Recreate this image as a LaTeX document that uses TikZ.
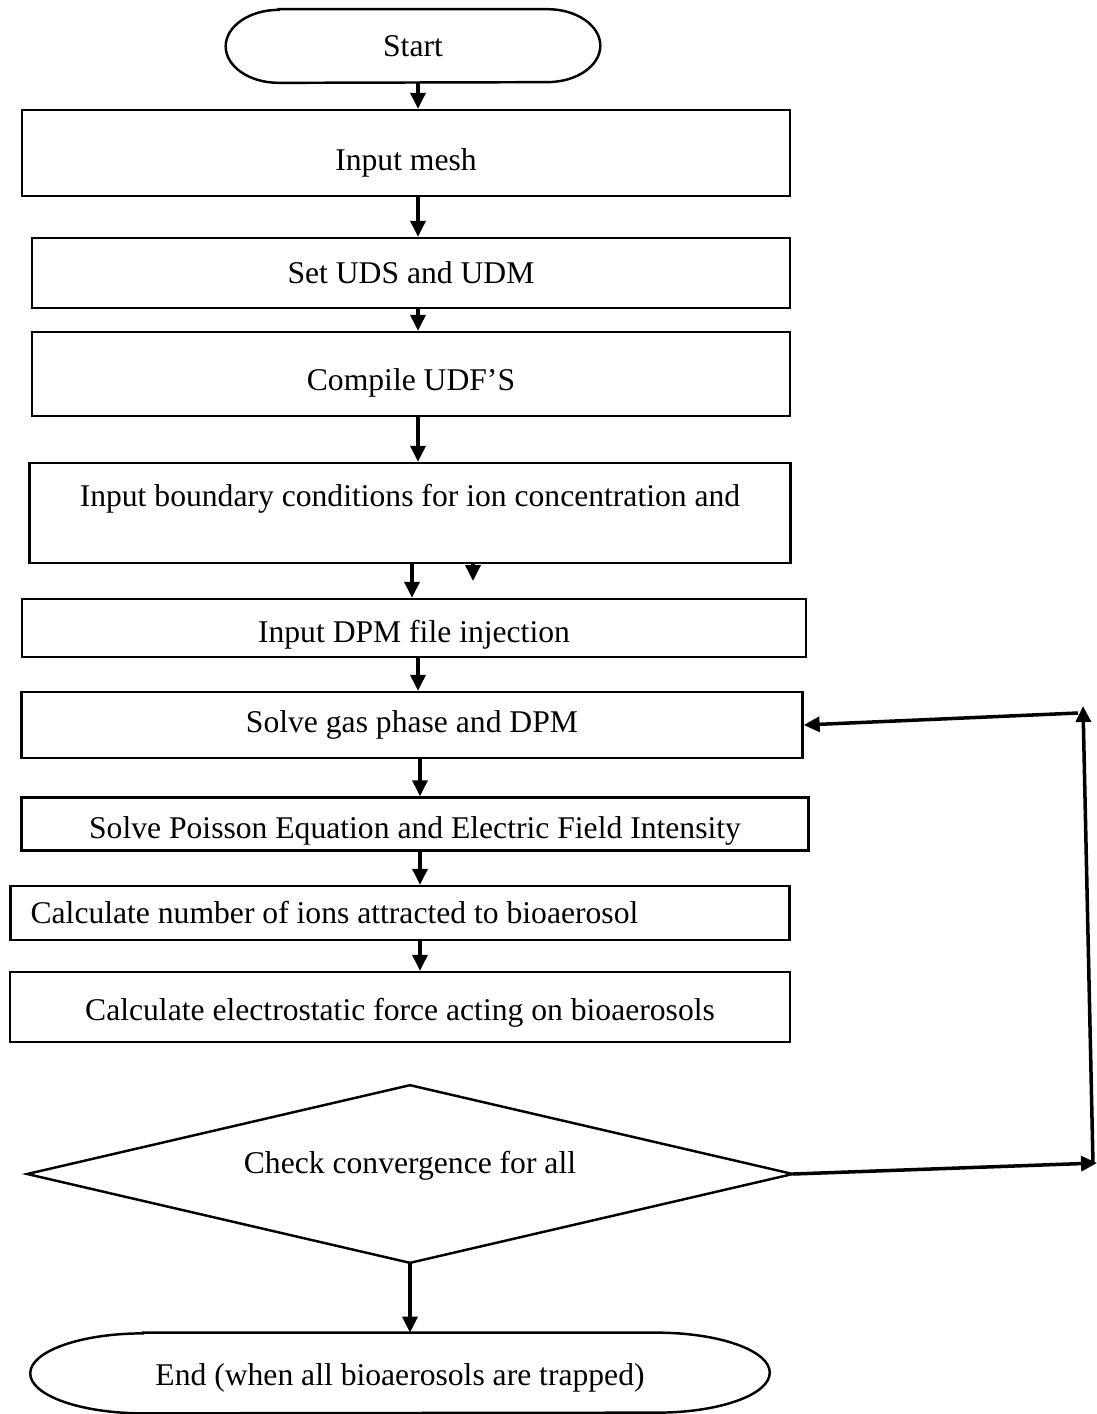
\documentclass[tikz,border=0pt]{standalone}
\usepackage{fontspec}
\setmainfont{Liberation Serif}
\usetikzlibrary{positioning,arrows.meta}

\begin{document}
\begin{tikzpicture}[x=0.02cm,y=-0.02cm,
    process/.style={draw,line width=1.4pt,inner sep=2pt,font=\fontsize{18}{20}\selectfont},
    plain/.style={inner sep=0pt,font=\fontsize{18}{20}\selectfont},
    tdrop/.style={text height=#1,text depth=0pt},
    flow/.style={line width=2pt,-{Triangle[length=0.32cm,width=0.3cm]}}]
    \useasboundingbox (0,0) rectangle (1097,1414);
    % terminals and steps
    \node[plain,minimum width=7.48cm,minimum height=1.46cm] (start) at (413,46) {Start};
    \draw[line width=1.4pt] ([xshift=1.06cm]start.north west) -- ([xshift=-1.06cm]start.north east)
      arc[start angle=90,end angle=-90,x radius=1.06cm,y radius=0.73cm]
      -- ([xshift=1.06cm]start.south west)
      arc[start angle=270,end angle=90,x radius=1.06cm,y radius=0.73cm] -- cycle;
    \node[process,tdrop=19.8pt,minimum width=15.36cm,minimum height=1.72cm] (mesh) at (406,153) {Input mesh};
    \node[process,minimum width=15.16cm,minimum height=1.4cm] (uds) at (411,273) {Set UDS and UDM};
    \node[process,tdrop=18.6pt,minimum width=15.16cm,minimum height=1.68cm] (udf) at (411,374) {Compile UDF’S};
    \node[process,minimum width=15.22cm,minimum height=2cm,align=center] (bc) at (410,513)
      {Input boundary conditions for ion concentration and\\\mbox{}};
    \node[process,tdrop=16.4pt,minimum width=15.68cm,minimum height=1.16cm] (dpm) at (414,628) {Input DPM file injection};
    \node[process,minimum width=15.62cm,minimum height=1.32cm] (gas) at (412,725) {Solve gas phase and DPM};
    \node[process,tdrop=16.4pt,minimum width=15.74cm,minimum height=1.06cm] (poisson) at (415,824) {Solve Poisson Equation and Electric Field Intensity};
    \node[process,inner xsep=0.4cm,minimum height=1.08cm] (ions) at (400,913) {\makebox[14.78cm][l]{Calculate number of ions attracted to bioaerosol}};
    \node[process,tdrop=15.2pt,minimum width=15.6cm,minimum height=1.4cm] (force) at (400,1007) {Calculate electrostatic force acting on bioaerosols};
    % decision
    \node[plain,text height=0pt,text depth=0.6pt,minimum width=15.3cm,minimum height=3.54cm] (check) at (410,1174) {Check convergence for all};
    \draw[line width=1.4pt] (check.north) -- (check.east) -- (check.south) -- (check.west) -- cycle;
    \node[plain,tdrop=14pt,minimum width=14.78cm,minimum height=1.6cm] (stop) at (400,1373) {End (when all bioaerosols are trapped)};
    \draw[line width=1.4pt] ([xshift=2.26cm]stop.north west) -- ([xshift=-2.26cm]stop.north east)
      arc[start angle=90,end angle=-90,x radius=2.26cm,y radius=0.8cm]
      -- ([xshift=2.26cm]stop.south west)
      arc[start angle=270,end angle=90,x radius=2.26cm,y radius=0.8cm] -- cycle;
    % columns and loop points
    \coordinate (colA) at (418,0);
    \coordinate (colB) at (412,0);
    \coordinate (colC) at (420,0);
    \coordinate (stray) at (473,581);
    \coordinate (loopend) at (1097,1163);
    \coordinate (loopbot) at (1093,1164);
    \coordinate (looptop) at (1083,706);
    \coordinate (loopin) at (1078,713);
    % connectors
    \draw[flow] (start.south -| colA) -- (mesh.north -| colA);
    \draw[flow] (mesh.south -| colA) -- (uds.north -| colA);
    \draw[flow] (uds.south -| colA) -- (udf.north -| colA);
    \draw[flow] (udf.south -| colA) -- (bc.north -| colA);
    \draw[flow] (bc.south -| colB) -- (dpm.north -| colB);
    \draw[flow] (bc.south -| stray) -- (stray);
    \draw[flow] (dpm.south -| colA) -- (gas.north -| colA);
    \draw[flow] (gas.south -| colC) -- (poisson.north -| colC);
    \draw[flow] (poisson.south -| colC) -- (ions.north -| colC);
    \draw[flow] (ions.south -| colC) -- (force.north -| colC);
    \draw[flow] (check.south) -- (check.south |- stop.north);
    \draw[flow] (check.east) -- (loopend);
    \draw[flow] (loopbot) -- (looptop);
    \draw[flow] (loopin) -- (gas.east);
\end{tikzpicture}
\end{document}
